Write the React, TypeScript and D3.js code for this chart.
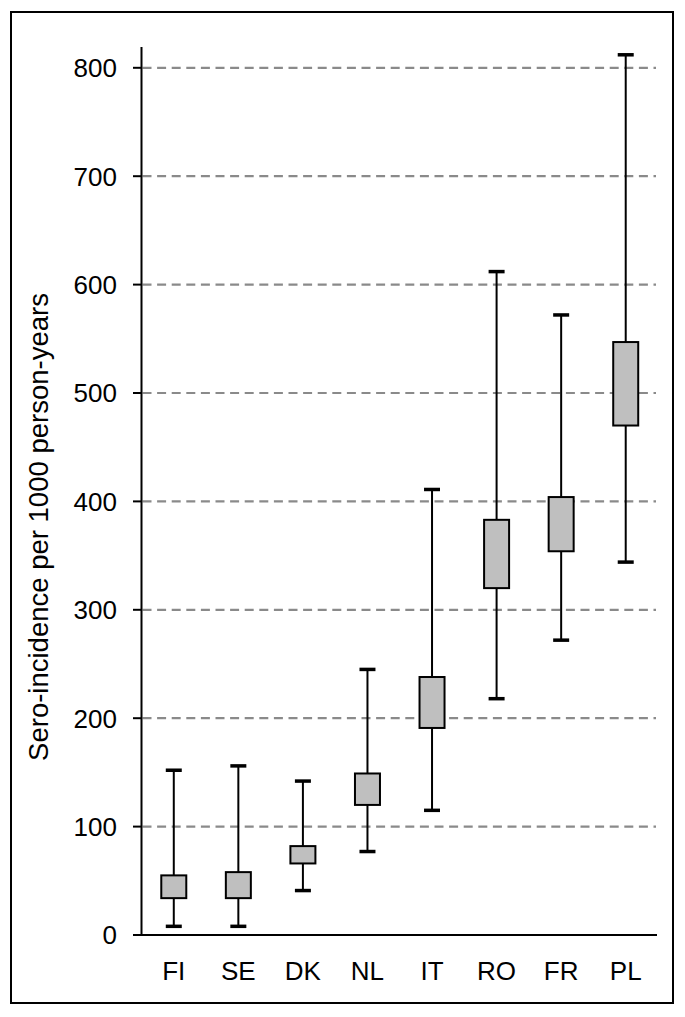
import React from "react";
import * as d3 from "d3";

const categories = ["FI", "SE", "DK", "NL", "IT", "RO", "FR", "PL"];
const lowValues = [8, 8, 41, 77, 115, 218, 272, 344];
const q1Values = [34, 34, 66, 120, 191, 320, 354, 470];
const q3Values = [55, 58, 82, 149, 238, 383, 404, 547];
const highValues = [152, 156, 142, 245, 411, 612, 572, 812];
const yTicks = [0, 100, 200, 300, 400, 500, 600, 700, 800];
const yTitle = "Sero-incidence per 1000 person-years";

const W = 685;
const H = 1017;
const FONT = "'Liberation Sans', Arial, sans-serif";

export default function App() {
  const x = d3.scaleBand<string>().domain(categories).range([141.5, 658]).padding(0);
  const y = d3.scaleLinear().domain([0, 800]).range([935, 67.8]);
  const boxW = 25;
  const capW = 16;

  return (
    <svg
      width={W}
      height={H}
      style={{ position: "absolute", left: 0, top: 0, background: "#fff" }}
    >
      <rect x={11} y={12} width={662} height={991} fill="#fff" stroke="#000" strokeWidth={2} />
      {yTicks.filter((t) => t > 0).map((t) => (
        <line
          key={"g" + t}
          x1={142.5}
          x2={656}
          y1={y(t)}
          y2={y(t)}
          stroke="#8a8a8a"
          strokeWidth={2.2}
          strokeDasharray="9 5.6"
        />
      ))}
      <line x1={141.5} x2={141.5} y1={47} y2={935} stroke="#000" strokeWidth={2} />
      {yTicks.map((t) => (
        <g key={"t" + t}>
          <line x1={133} x2={141.5} y1={y(t)} y2={y(t)} stroke="#000" strokeWidth={2} />
          <text
            x={117}
            y={y(t)}
            dy="0.36em"
            textAnchor="end"
            fontFamily={FONT}
            fontSize={26}
            fill="#000"
          >
            {t}
          </text>
        </g>
      ))}
      <line x1={133} x2={657} y1={935} y2={935} stroke="#000" strokeWidth={2} />
      {categories.map((c) => (
        <text
          key={"x" + c}
          x={(x(c) as number) + x.bandwidth() / 2}
          y={980}
          textAnchor="middle"
          fontFamily={FONT}
          fontSize={26}
          fill="#000"
        >
          {c}
        </text>
      ))}
      {categories.map((c, i) => {
        const cx = (x(c) as number) + x.bandwidth() / 2;
        return (
          <g key={"b" + c}>
            <line x1={cx} x2={cx} y1={y(highValues[i])} y2={y(lowValues[i])} stroke="#000" strokeWidth={2} />
            <line x1={cx - capW / 2} x2={cx + capW / 2} y1={y(highValues[i])} y2={y(highValues[i])} stroke="#000" strokeWidth={3.5} />
            <line x1={cx - capW / 2} x2={cx + capW / 2} y1={y(lowValues[i])} y2={y(lowValues[i])} stroke="#000" strokeWidth={3.5} />
            <rect
              x={cx - boxW / 2}
              y={y(q3Values[i])}
              width={boxW}
              height={y(q1Values[i]) - y(q3Values[i])}
              fill="#bfbfbf"
              stroke="#000"
              strokeWidth={2}
            />
          </g>
        );
      })}
      <text
        transform={`translate(48,527) rotate(-90)`}
        textAnchor="middle"
        fontFamily={FONT}
        fontSize={27.5}
        fill="#000"
      >
        {yTitle}
      </text>
    </svg>
  );
}
